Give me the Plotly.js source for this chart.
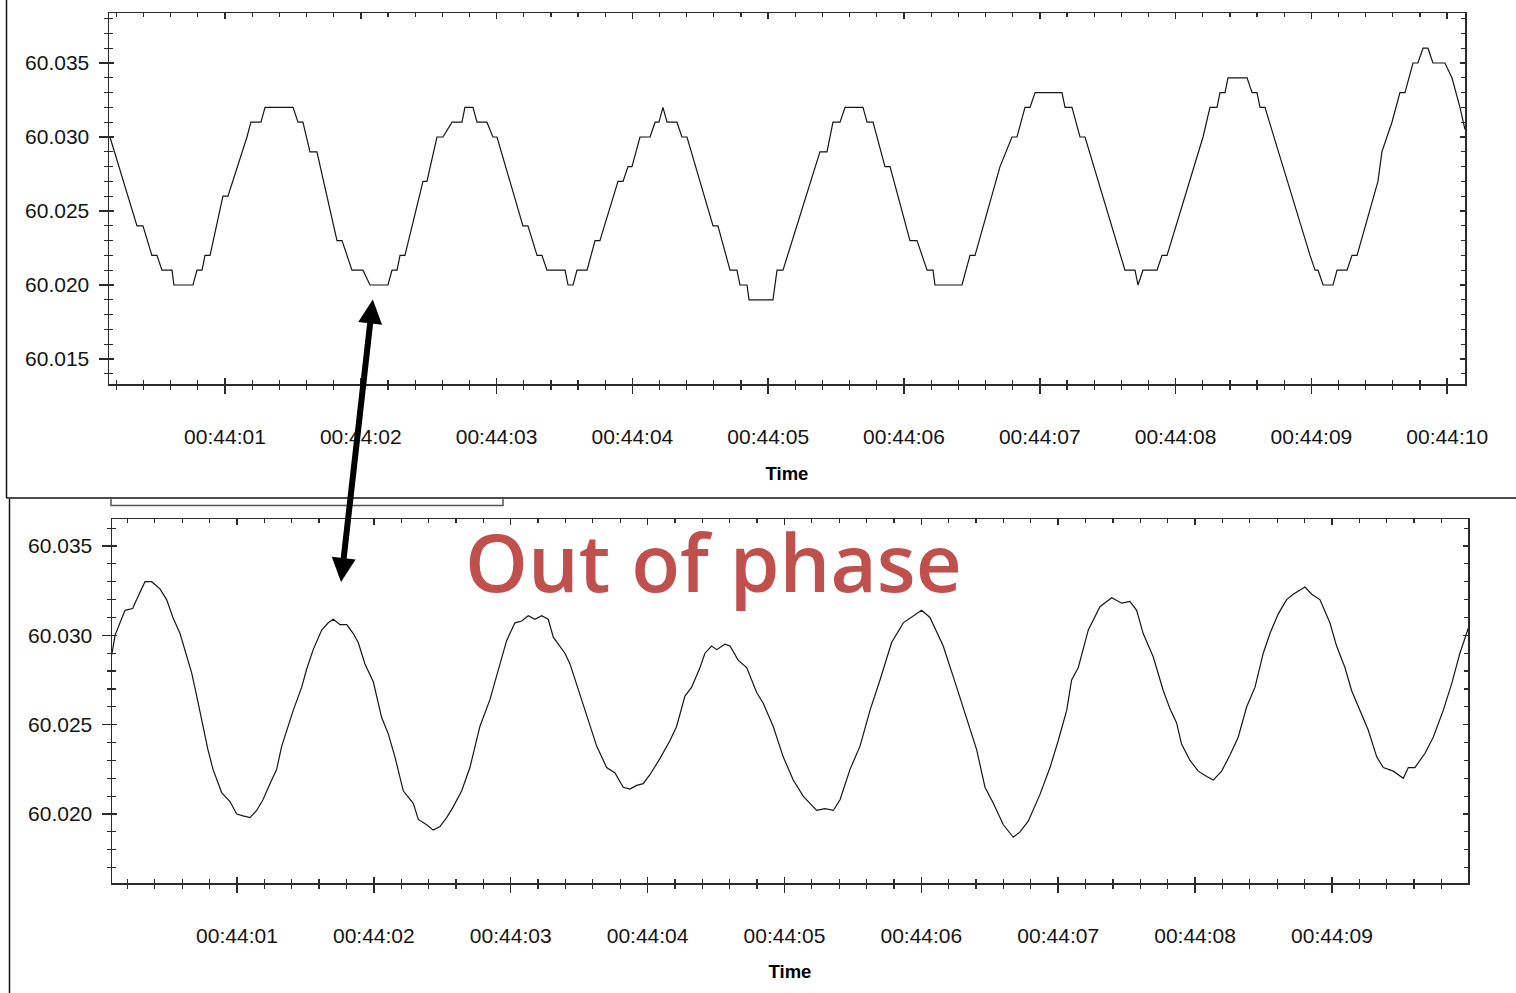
<!DOCTYPE html>
<html>
<head>
<meta charset="utf-8">
<script src="https://cdn.plot.ly/plotly-3.0.1.min.js"></script>
<style>
  html, body { margin: 0; padding: 0; background: #ffffff; }
  #chart { width: 1516px; height: 993px; }
</style>
</head>
<body>
<div id="chart"></div>
<script>
// ---------- DATA (seconds after 00:44:00, frequency in Hz) ----------
// Upper recording (quantized to 0.001 Hz)
const topTime = [0.153,0.352,0.396,0.462,0.499,0.536,0.610,0.624,0.764,0.794,0.831,0.853,0.890,0.985,1.022,1.162,1.191,1.265,1.295,1.501,1.538,1.574,1.626,1.677,1.825,1.862,1.935,2.016,2.068,2.200,2.230,2.267,2.289,2.325,2.458,2.487,2.561,2.605,2.672,2.745,2.767,2.826,2.856,2.929,2.973,3.003,3.194,3.231,3.298,3.334,3.371,3.504,3.526,3.563,3.592,3.666,3.725,3.761,3.894,3.931,3.968,3.997,4.056,4.130,4.167,4.196,4.225,4.255,4.328,4.365,4.402,4.594,4.630,4.719,4.770,4.792,4.844,4.859,5.035,5.065,5.109,5.381,5.433,5.477,5.529,5.566,5.698,5.728,5.772,5.860,5.897,6.044,6.096,6.170,6.214,6.228,6.427,6.486,6.523,6.707,6.795,6.832,6.891,6.928,6.965,7.163,7.186,7.237,7.296,7.333,7.627,7.701,7.723,7.760,7.863,7.900,7.937,8.202,8.253,8.305,8.327,8.364,8.386,8.526,8.563,8.599,8.622,8.658,8.990,9.027,9.049,9.086,9.159,9.189,9.262,9.299,9.336,9.490,9.519,9.593,9.652,9.689,9.748,9.784,9.822,9.858,9.895,9.983,10.035,10.094,10.131];
const topFreq = [60.030,60.024,60.024,60.022,60.022,60.021,60.021,60.020,60.020,60.021,60.021,60.022,60.022,60.026,60.026,60.030,60.031,60.031,60.032,60.032,60.031,60.031,60.029,60.029,60.023,60.023,60.021,60.021,60.020,60.020,60.021,60.021,60.022,60.022,60.027,60.027,60.030,60.030,60.031,60.031,60.032,60.032,60.031,60.031,60.030,60.030,60.024,60.024,60.022,60.022,60.021,60.021,60.020,60.020,60.021,60.021,60.023,60.023,60.027,60.027,60.028,60.028,60.030,60.030,60.031,60.031,60.032,60.031,60.031,60.030,60.030,60.024,60.024,60.021,60.021,60.020,60.020,60.019,60.019,60.021,60.021,60.029,60.029,60.031,60.031,60.032,60.032,60.031,60.031,60.028,60.028,60.023,60.023,60.021,60.021,60.020,60.020,60.022,60.022,60.028,60.030,60.030,60.032,60.032,60.033,60.033,60.032,60.032,60.030,60.030,60.021,60.021,60.020,60.021,60.021,60.022,60.022,60.030,60.032,60.032,60.033,60.033,60.034,60.034,60.033,60.033,60.032,60.032,60.022,60.021,60.021,60.020,60.020,60.021,60.021,60.022,60.022,60.027,60.029,60.031,60.033,60.033,60.035,60.035,60.036,60.036,60.035,60.035,60.034,60.032,60.0305];

// Lower recording (smooth)
const botTime = [0.085,0.109,0.182,0.238,0.267,0.328,0.377,0.437,0.486,0.532,0.584,0.633,0.669,0.706,0.752,0.788,0.825,0.888,0.949,0.998,1.044,1.095,1.144,1.190,1.241,1.290,1.327,1.363,1.411,1.473,1.509,1.557,1.619,1.667,1.704,1.753,1.802,1.850,1.886,1.935,1.996,2.057,2.105,2.154,2.215,2.288,2.325,2.386,2.434,2.483,2.532,2.580,2.642,2.702,2.775,2.848,2.922,2.970,3.031,3.080,3.128,3.177,3.226,3.274,3.311,3.396,3.433,3.506,3.567,3.628,3.701,3.762,3.822,3.871,3.920,3.968,4.017,4.090,4.163,4.212,4.273,4.322,4.383,4.419,4.468,4.505,4.565,4.602,4.663,4.724,4.797,4.845,4.918,4.991,5.064,5.137,5.186,5.235,5.296,5.357,5.406,5.479,5.552,5.625,5.698,5.783,5.868,5.941,6.002,6.063,6.160,6.258,6.331,6.404,6.465,6.526,6.599,6.672,6.721,6.781,6.867,6.940,7.000,7.062,7.098,7.147,7.220,7.305,7.391,7.464,7.524,7.573,7.621,7.694,7.768,7.816,7.865,7.902,7.963,8.023,8.085,8.133,8.194,8.255,8.315,8.377,8.438,8.498,8.547,8.608,8.669,8.717,8.803,8.852,8.912,8.985,9.034,9.095,9.144,9.205,9.265,9.327,9.375,9.448,9.521,9.558,9.606,9.680,9.740,9.813,9.875,9.935,9.972,9.996];
const botFreq = [60.0289,60.0300,60.0314,60.0315,60.0320,60.0330,60.0330,60.0326,60.0320,60.0310,60.0301,60.0288,60.0279,60.0266,60.0249,60.0236,60.0225,60.0212,60.0207,60.0200,60.0199,60.0198,60.0202,60.0208,60.0217,60.0225,60.0238,60.0247,60.0258,60.0271,60.0281,60.0292,60.0303,60.0307,60.0309,60.0306,60.0306,60.0301,60.0296,60.0284,60.0274,60.0254,60.0245,60.0232,60.0213,60.0206,60.0197,60.0194,60.0191,60.0193,60.0198,60.0204,60.0213,60.0226,60.0249,60.0264,60.0284,60.0297,60.0307,60.0308,60.0311,60.0309,60.0311,60.0309,60.0299,60.0290,60.0284,60.0267,60.0253,60.0238,60.0226,60.0223,60.0215,60.0214,60.0216,60.0217,60.0222,60.0231,60.0241,60.0249,60.0266,60.0271,60.0282,60.0290,60.0294,60.0292,60.0295,60.0294,60.0286,60.0282,60.0268,60.0262,60.0249,60.0232,60.0219,60.0210,60.0206,60.0202,60.0203,60.0202,60.0208,60.0225,60.0238,60.0258,60.0275,60.0296,60.0307,60.0311,60.0314,60.0310,60.0294,60.0271,60.0254,60.0236,60.0215,60.0206,60.0194,60.0187,60.0190,60.0196,60.0211,60.0226,60.0241,60.0258,60.0275,60.0282,60.0303,60.0316,60.0321,60.0318,60.0319,60.0314,60.0301,60.0288,60.0269,60.0259,60.0251,60.0239,60.0230,60.0224,60.0221,60.0219,60.0224,60.0233,60.0243,60.0260,60.0271,60.0290,60.0301,60.0312,60.0320,60.0323,60.0327,60.0323,60.0320,60.0307,60.0294,60.0282,60.0269,60.0258,60.0247,60.0232,60.0226,60.0224,60.0220,60.0226,60.0226,60.0234,60.0243,60.0258,60.0273,60.0290,60.0299,60.0304];

// Axis settings (view windows)
const topXRange = [0.146, 10.131];
const botXRange = [0.087, 9.994];
const topYRange = [60.01331, 60.03838];
const botYRange = [60.01614, 60.03651];
const axisTitle = 'Time';
const annotationText = 'Out of phase';

// ---------- helpers ----------
function ts(s) {
  const ms = Math.round(s * 1000);
  const sec = Math.floor(ms / 1000);
  const rem = ms % 1000;
  return '2000-01-01 00:44:' + String(sec).padStart(2, '0') + '.' + String(rem).padStart(3, '0');
}
const W = 1516, H = 993;
const px = x => x / W;
const py = y => 1 - y / H;

const AX = '#2a2a2a';
const tickFont = { family: 'Liberation Sans, Arial, sans-serif', size: 21, color: '#141414' };
const titleFont = { family: 'Liberation Sans, Arial, sans-serif', size: 18.5, color: '#000', weight: 'bold' };

function xMain(range, domain, anchor, standoff) {
  return {
    type: 'date', range: range.map(ts), domain: domain, anchor: anchor,
    autorange: false, fixedrange: true,
    tick0: '2000-01-01 00:44:00', dtick: 1000, tickformat: '%H:%M:%S',
    ticks: 'outside', ticklen: 8, tickwidth: 1.5, tickcolor: AX,
    minor: { dtick: 200, tick0: '2000-01-01 00:44:00', ticks: 'outside', ticklen: 4, tickwidth: 1.2, tickcolor: AX, showgrid: false },
    showline: true, linecolor: AX, linewidth: 1.5, mirror: false,
    showgrid: false, zeroline: false,
    tickfont: tickFont, ticklabelstandoff: 25,
    title: { text: axisTitle, font: titleFont, standoff: standoff }
  };
}
function xOver(range, domain, anchor, over) {
  return {
    type: 'date', range: range.map(ts), domain: domain, anchor: anchor, overlaying: over,
    autorange: false, fixedrange: true,
    tick0: '2000-01-01 00:44:00', dtick: 1000,
    ticks: 'inside', ticklen: 6, tickwidth: 1.5, tickcolor: AX,
    minor: { dtick: 200, tick0: '2000-01-01 00:44:00', ticks: 'inside', ticklen: 4, tickwidth: 1.2, tickcolor: AX, showgrid: false },
    showline: true, linecolor: AX, linewidth: 1.5, mirror: 'allticks',
    showgrid: false, zeroline: false, showticklabels: false
  };
}
function yMain(range, domain, anchor) {
  return {
    range: range, domain: domain, anchor: anchor, autorange: false, fixedrange: true,
    tick0: 60, dtick: 0.005, tickformat: '.3f',
    ticks: 'outside', ticklen: 9, tickwidth: 1.5, tickcolor: AX,
    minor: { dtick: 0.001, tick0: 60, ticks: 'outside', ticklen: 4, tickwidth: 1.2, tickcolor: AX, showgrid: false },
    showline: true, linecolor: AX, linewidth: 1.5, mirror: false,
    showgrid: false, zeroline: false,
    tickfont: tickFont, ticklabelstandoff: 5
  };
}
function yOver(range, domain, anchor, over) {
  return {
    range: range, domain: domain, anchor: anchor, overlaying: over, autorange: false, fixedrange: true,
    tick0: 60, dtick: 0.005,
    ticks: 'inside', ticklen: 5, tickwidth: 1.5, tickcolor: AX,
    minor: { dtick: 0.001, tick0: 60, ticks: 'inside', ticklen: 4, tickwidth: 1.2, tickcolor: AX, showgrid: false },
    showline: true, linecolor: AX, linewidth: 1.5, mirror: 'allticks',
    showgrid: false, zeroline: false, showticklabels: false
  };
}

const topXDom = [px(109), px(1465)], topYDom = [py(384), py(13)];
const botXDom = [px(112), px(1468)], botYDom = [py(883), py(519)];

const lineStyle = { color: '#151515', width: 1.2 };
const traces = [
  { x: topTime.map(ts), y: topFreq, xaxis: 'x', yaxis: 'y', type: 'scatter', mode: 'lines',
    line: lineStyle, hoverinfo: 'skip', showlegend: false },
  { x: botTime.map(ts), y: botFreq, xaxis: 'x2', yaxis: 'y2', type: 'scatter', mode: 'lines',
    line: lineStyle, hoverinfo: 'skip', showlegend: false },
  // empty traces so the overlay (inside / mirrored tick) axes are drawn
  { x: [], y: [], xaxis: 'x3', yaxis: 'y', type: 'scatter', mode: 'lines', showlegend: false, hoverinfo: 'skip' },
  { x: [], y: [], xaxis: 'x', yaxis: 'y3', type: 'scatter', mode: 'lines', showlegend: false, hoverinfo: 'skip' },
  { x: [], y: [], xaxis: 'x4', yaxis: 'y2', type: 'scatter', mode: 'lines', showlegend: false, hoverinfo: 'skip' },
  { x: [], y: [], xaxis: 'x2', yaxis: 'y4', type: 'scatter', mode: 'lines', showlegend: false, hoverinfo: 'skip' }
];

const layout = {
  width: W, height: H,
  margin: { l: 0, r: 0, t: 0, b: 0 },
  paper_bgcolor: '#ffffff', plot_bgcolor: '#ffffff',
  showlegend: false,
  xaxis: xMain(topXRange, topXDom, 'y', 20),
  yaxis: yMain(topYRange, topYDom, 'x'),
  xaxis2: xMain(botXRange, botXDom, 'y2', 19),
  yaxis2: yMain(botYRange, botYDom, 'x2'),
  xaxis3: xOver(topXRange, topXDom, 'y', 'x'),
  yaxis3: yOver(topYRange, topYDom, 'x', 'y'),
  xaxis4: xOver(botXRange, botXDom, 'y2', 'x2'),
  yaxis4: yOver(botYRange, botYDom, 'x2', 'y2'),
  shapes: [
    // frame of the upper screenshot
    { type: 'line', xref: 'paper', yref: 'paper', x0: px(6.5), x1: px(6.5), y0: py(0), y1: py(498), line: { color: '#111', width: 1.5 } },
    { type: 'line', xref: 'paper', yref: 'paper', x0: px(6.5), x1: px(1516), y0: py(498), y1: py(498), line: { color: '#111', width: 1.5 } },
    // frame of the lower screenshot
    { type: 'line', xref: 'paper', yref: 'paper', x0: px(9.5), x1: px(9.5), y0: py(499), y1: py(993), line: { color: '#111', width: 1.5 } },
    // partially hidden box under the upper screenshot
    { type: 'path', xref: 'paper', yref: 'paper',
      path: 'M ' + px(111) + ' ' + py(499) + ' L ' + px(111) + ' ' + py(505.5) + ' L ' + px(503) + ' ' + py(505.5) + ' L ' + px(503) + ' ' + py(499),
      line: { color: '#555', width: 1.5 } }
  ],
  annotations: [
    { xref: 'paper', yref: 'paper', x: px(341), y: py(582), ax: 32, ay: -284, axref: 'pixel', ayref: 'pixel',
      text: '', showarrow: true, arrowside: 'end+start', arrowhead: 2, startarrowhead: 2,
      arrowsize: 0.8, startarrowsize: 0.8, arrowwidth: 6, arrowcolor: '#000', standoff: 0, startstandoff: 0 },
    { xref: 'paper', yref: 'paper', x: px(713), y: py(560), xanchor: 'center', yanchor: 'middle',
      text: annotationText, showarrow: false,
      font: { family: 'Open Sans, Noto Sans, sans-serif', size: 80, color: '#C0504D', weight: 600 } }
  ]
};

Plotly.newPlot('chart', traces, layout, { staticPlot: true, displayModeBar: false });
</script>
</body>
</html>
